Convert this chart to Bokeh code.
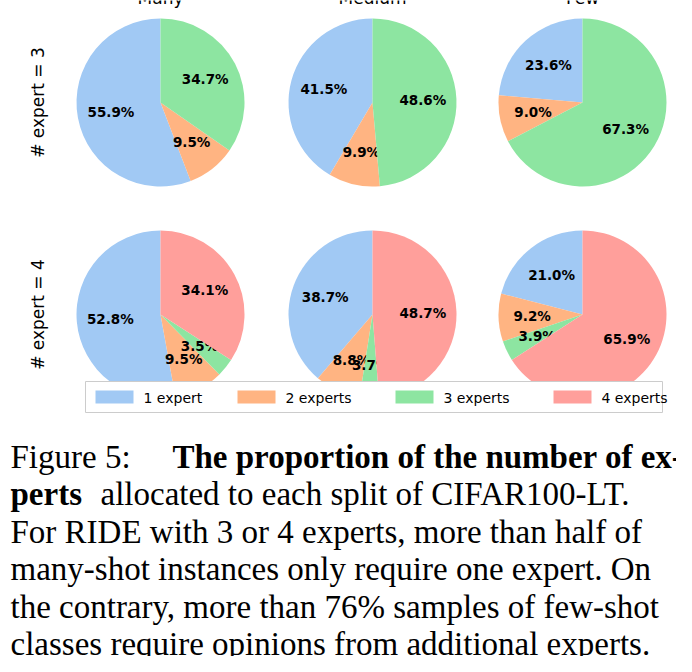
import numpy as np
from bokeh.plotting import figure
from bokeh.models import Range1d
from bokeh.core.properties import value
from bokeh.embed import file_html
from bokeh.resources import INLINE

splits = ["Many", "Medium", "Few"]
rows = ["# expert = 3", "# expert = 4"]
legend_labels = ["1 expert", "2 experts", "3 experts", "4 experts"]
colors = ["#a1c9f4", "#ffb482", "#8de5a1", "#ff9f9b"]
shares_3 = [[55.9, 9.5, 34.7], [41.5, 9.9, 48.6], [23.6, 9.0, 67.3]]
shares_4 = [[52.8, 9.5, 3.5, 34.1], [38.7, 8.8, 3.7, 48.7], [21.0, 9.2, 3.9, 65.9]]

H = 672
def Y(py):
    return H - py

p = figure(width=676, height=656, x_range=Range1d(0, 676), y_range=Range1d(0, 656),
           output_backend="svg", toolbar_location=None, min_border=0)
p.axis.visible = False
p.grid.visible = False
p.outline_line_color = None

cx = [160, 372, 582]
cy = [118, 330]
R = 84
for r, data in enumerate([shares_3, shares_4]):
    for c, vals in enumerate(data):
        start = np.pi / 2
        total = sum(vals)
        for k, v in enumerate(vals):
            ang = 2 * np.pi * v / total
            col = colors[k] if r == 1 or k < 2 else colors[2]
            p.wedge(x=[cx[c]], y=[Y(cy[r])], radius=R, start_angle=start, end_angle=start + ang,
                    fill_color=col, line_color=None)
            mid = start + ang / 2
            p.text(x=[cx[c] + 0.6 * R * np.cos(mid)], y=[Y(cy[r]) + 0.6 * R * np.sin(mid)],
                   text=[f"{v:.1f}%"], text_align="center", text_baseline="middle",
                   text_font=value("DejaVu Sans"), text_font_style="bold", text_font_size="13.5px")
            start += ang

for c, s in enumerate(splits):
    p.text(x=[cx[c]], y=[Y(13)], text=[s], text_align="center", text_baseline="middle",
           text_font=value("DejaVu Sans"), text_font_size="17px")
for r, s in enumerate(rows):
    p.text(x=[37], y=[Y(cy[r])], text=[s], angle=np.pi / 2, text_align="center",
           text_baseline="middle", text_font=value("DejaVu Sans"), text_font_size="17px")

# legend
p.quad(left=[85], right=[662], bottom=[Y(428)], top=[Y(397)], fill_color="white",
       line_color="#cccccc", line_width=1)
lx = [95, 237, 395, 553]
for k, lab in enumerate(legend_labels):
    p.quad(left=[lx[k]], right=[lx[k] + 38], bottom=[Y(419)], top=[Y(406)],
           fill_color=colors[k], line_color=None)
    p.text(x=[lx[k] + 48], y=[Y(413)], text=[lab], text_baseline="middle",
           text_font=value("DejaVu Sans"), text_font_size="14px")

# caption
serif = value("Liberation Serif")
fs = "33px"
base = [472, 509, 547, 584, 622, 659]
def cap(x, py, t, bold=False):
    p.text(x=[x], y=[Y(py)], text=[t], text_baseline="alphabetic", text_font=serif,
           text_font_size=fs, text_font_style="bold" if bold else "normal")

cap(10, base[0], "Figure 5:")
cap(172, base[0], "The proportion of the number of ex-", bold=True)
cap(10, base[1], "perts", bold=True)
cap(100, base[1], "allocated to each split of CIFAR100-LT.")
cap(10, base[2], "For RIDE with 3 or 4 experts, more than half of")
cap(10, base[3], "many-shot instances only require one expert. On")
cap(10, base[4], "the contrary, more than 76% samples of few-shot")
cap(10, base[5], "classes require opinions from additional experts.")

open("out.html", "w").write(file_html(p, INLINE))
